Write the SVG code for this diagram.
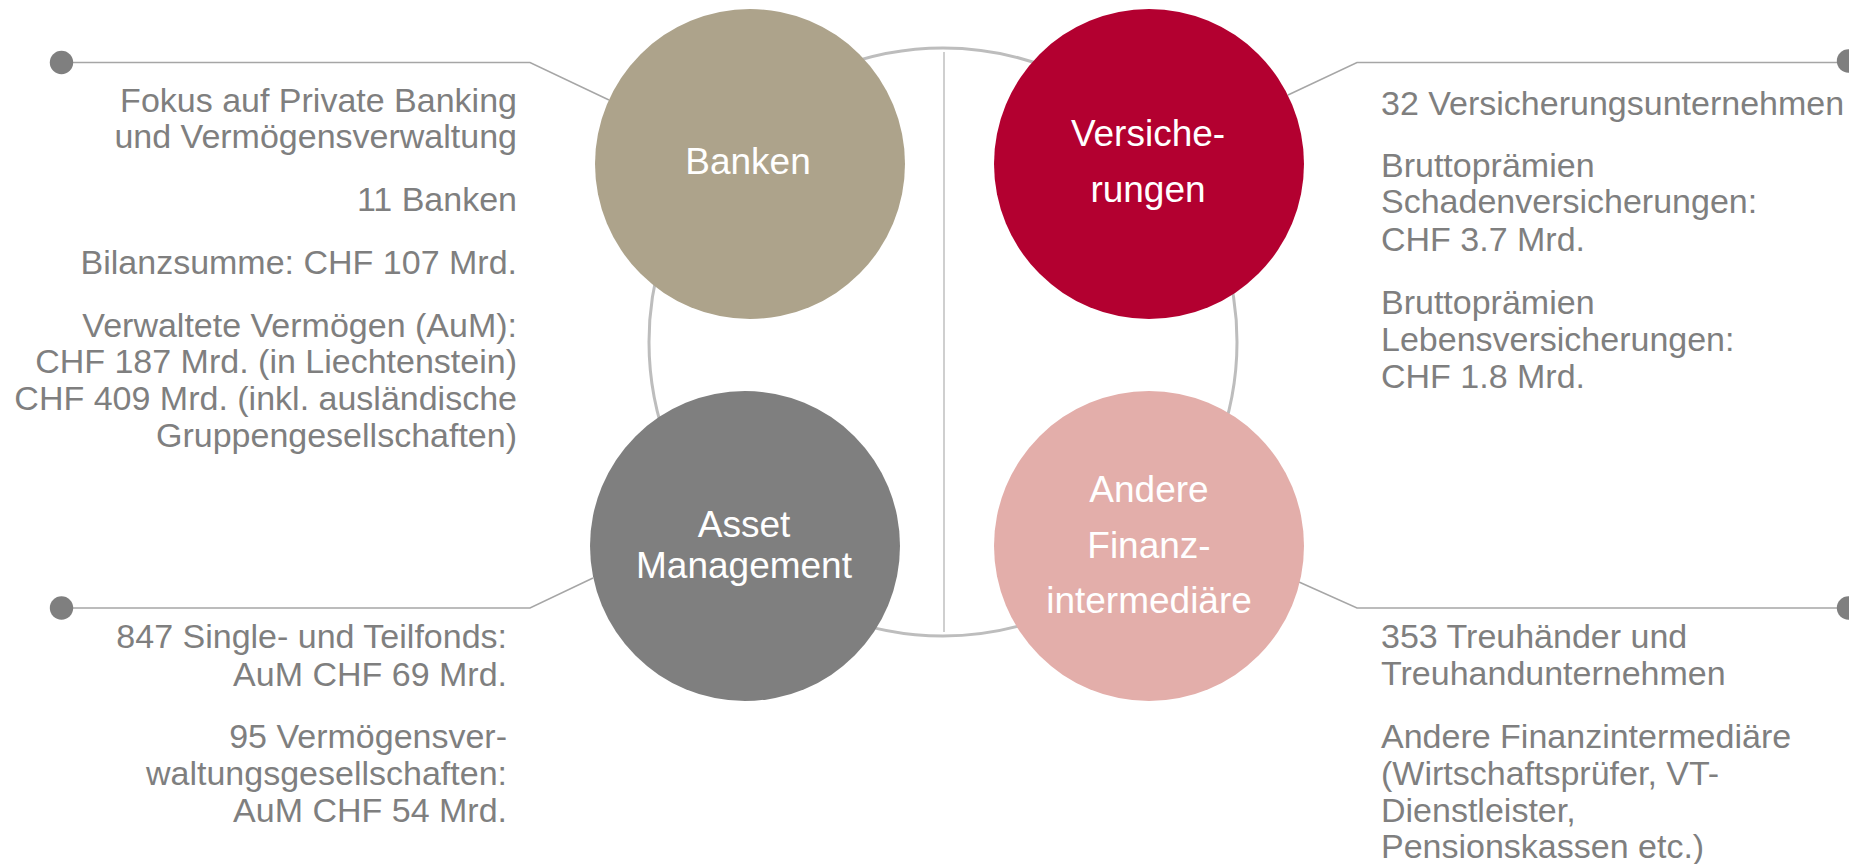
<svg xmlns="http://www.w3.org/2000/svg" width="1849" height="864" viewBox="0 0 1849 864">
<style>
.desc{font-family:"Liberation Sans",Arial,sans-serif;font-size:34px;fill:#7f7f7f}
.l{text-anchor:end}
.lbl{font-family:"Liberation Sans",Arial,sans-serif;font-size:37px;fill:#ffffff;text-anchor:middle}
.conn{fill:none;stroke:#a6a6a6;stroke-width:1.5}
.dot{fill:#7f7f7f}
</style>
<rect width="1849" height="864" fill="#ffffff"/>
<g id="background">
<circle cx="943" cy="342" r="294" fill="none" stroke="#bdbdbd" stroke-width="3"/>
<line x1="944" y1="52" x2="944" y2="632" stroke="#bfbfbf" stroke-width="1.5"/>
</g>
<g id="connectors">
<polyline class="conn" points="61.5,62.5 530,62.5 609,100"/>
<circle class="dot" cx="61.5" cy="62.5" r="11.7"/>
<polyline class="conn" points="1288,95 1357,62.5 1848,62.5"/>
<circle class="dot" cx="1848.5" cy="61" r="11.7"/>
<polyline class="conn" points="61.5,608 530,608 593,578"/>
<circle class="dot" cx="61.5" cy="608" r="11.7"/>
<polyline class="conn" points="1299,582 1357,608 1848,608"/>
<circle class="dot" cx="1848.5" cy="608" r="11.7"/>
</g>
<g id="node-banken">
<circle cx="750" cy="164" r="155" fill="#ada38b"/>
<text class="lbl" x="748" y="174">Banken</text>
</g>
<g id="node-versicherungen">
<circle cx="1149" cy="164" r="155" fill="#b30030"/>
<text class="lbl" x="1148" y="146">Versiche-</text>
<text class="lbl" x="1148" y="202">rungen</text>
</g>
<g id="node-asset">
<circle cx="745" cy="546" r="155" fill="#7f7f7f"/>
<text class="lbl" x="744" y="537">Asset</text>
<text class="lbl" x="744" y="578">Management</text>
</g>
<g id="node-andere">
<circle cx="1149" cy="546" r="155" fill="#e3aeaa"/>
<text class="lbl" x="1149" y="502">Andere</text>
<text class="lbl" x="1149" y="558">Finanz-</text>
<text class="lbl" x="1149" y="613">intermediäre</text>
</g>
<g id="text-banken">
<text class="desc l" x="517" y="112">Fokus auf Private Banking</text>
<text class="desc l" x="517" y="148">und Vermögensverwaltung</text>
<text class="desc l" x="517" y="211">11 Banken</text>
<text class="desc l" x="517" y="274">Bilanzsumme: CHF 107 Mrd.</text>
<text class="desc l" x="517" y="337">Verwaltete Vermögen (AuM):</text>
<text class="desc l" x="517" y="373">CHF 187 Mrd. (in Liechtenstein)</text>
<text class="desc l" x="517" y="410">CHF 409 Mrd. (inkl. ausländische</text>
<text class="desc l" x="517" y="447">Gruppengesellschaften)</text>
</g>
<g id="text-versicherungen">
<text class="desc" x="1381" y="115">32 Versicherungsunternehmen</text>
<text class="desc" x="1381" y="177">Bruttoprämien</text>
<text class="desc" x="1381" y="213">Schadenversicherungen:</text>
<text class="desc" x="1381" y="251">CHF 3.7 Mrd.</text>
<text class="desc" x="1381" y="314">Bruttoprämien</text>
<text class="desc" x="1381" y="351">Lebensversicherungen:</text>
<text class="desc" x="1381" y="388">CHF 1.8 Mrd.</text>
</g>
<g id="text-asset">
<text class="desc l" x="507" y="648">847 Single- und Teilfonds:</text>
<text class="desc l" x="507" y="686">AuM CHF 69 Mrd.</text>
<text class="desc l" x="507" y="748">95 Vermögensver-</text>
<text class="desc l" x="507" y="785">waltungsgesellschaften:</text>
<text class="desc l" x="507" y="822">AuM CHF 54 Mrd.</text>
</g>
<g id="text-andere">
<text class="desc" x="1381" y="648">353 Treuhänder und</text>
<text class="desc" x="1381" y="685">Treuhandunternehmen</text>
<text class="desc" x="1381" y="748">Andere Finanzintermediäre</text>
<text class="desc" x="1381" y="785">(Wirtschaftsprüfer, VT-</text>
<text class="desc" x="1381" y="822">Dienstleister,</text>
<text class="desc" x="1381" y="858">Pensionskassen etc.)</text>
</g>
</svg>
